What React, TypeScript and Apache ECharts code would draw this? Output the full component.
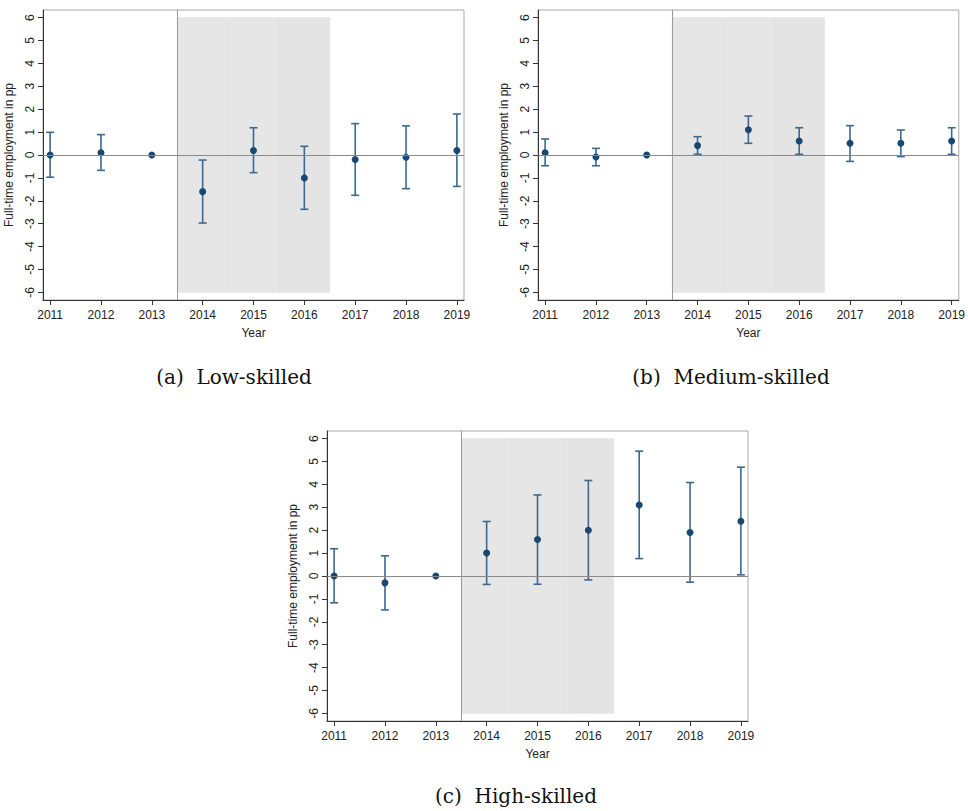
import React, { useEffect, useRef } from "react";
import * as echarts from "echarts";

const years = [2011, 2012, 2013, 2014, 2015, 2016, 2017, 2018, 2019];
const yTicks = [-6, -5, -4, -3, -2, -1, 0, 1, 2, 3, 4, 5, 6];

// Low-skilled
const lowEst = [0, 0.1, 0, -1.6, 0.2, -1.0, -0.2, -0.1, 0.2];
const lowLo = [-0.97, -0.67, null, -2.97, -0.77, -2.37, -1.76, -1.47, -1.37];
const lowHi = [0.99, 0.89, null, -0.22, 1.19, 0.38, 1.37, 1.27, 1.79];

// Medium-skilled
const medEst = [0.1, -0.09, 0, 0.41, 1.1, 0.61, 0.51, 0.51, 0.61];
const medLo = [-0.47, -0.47, null, 0.03, 0.51, 0.03, -0.28, -0.07, 0.03];
const medHi = [0.7, 0.29, null, 0.8, 1.7, 1.19, 1.28, 1.09, 1.19];

// High-skilled
const highEst = [0, -0.3, 0, 1.0, 1.59, 2.0, 3.1, 1.9, 2.39];
const highLo = [-1.17, -1.48, null, -0.37, -0.36, -0.17, 0.76, -0.27, 0.05];
const highHi = [1.19, 0.88, null, 2.38, 3.54, 4.17, 5.45, 4.08, 4.75];

const shadeYears = [2014, 2015, 2016];
const captions = ["(a)  Low-skilled", "(b)  Medium-skilled", "(c)  High-skilled"];
const yTitle = "Full-time employment in pp";
const xTitle = "Year";

const DOT = "#1a476f";
const BAR = "#3b6991";
const SANS = "Liberation Sans, Arial, sans-serif";

const grids = [
  { left: 43, top: 10, width: 421, height: 290 },
  { left: 538, top: 10, width: 422, height: 290 },
  { left: 327, top: 431, width: 421, height: 290 },
];

export default function App() {
  const ref = useRef<HTMLDivElement>(null);
  useEffect(() => {
    const chart = echarts.init(ref.current!, null, { renderer: "svg" });
    const panels = [
      { est: lowEst, lo: lowLo, hi: lowHi },
      { est: medEst, lo: medLo, hi: medHi },
      { est: highEst, lo: highLo, hi: highHi },
    ];
    const xAxis: any[] = [];
    const yAxis: any[] = [];
    const series: any[] = [];
    const shadeColors = ["#e6e6e6", "#e6e6e6", "#e4e4e4"];
    panels.forEach((p, i) => {
      xAxis.push({
        type: "value",
        gridIndex: i,
        min: 2010.86,
        max: 2019.14,
        name: xTitle,
        nameLocation: "middle",
        nameGap: 27,
        nameTextStyle: { fontFamily: SANS, fontSize: 12, color: "#222" },
        axisLine: { show: true, onZero: false, lineStyle: { color: "#333", width: 1 } },
        axisTick: { show: true, length: 5, customValues: years, lineStyle: { color: "#333" } },
        axisLabel: {
          customValues: years,
          fontFamily: SANS,
          fontSize: 12,
          color: "#222",
          margin: 9,
          formatter: (v: number) => String(Math.round(v)),
        },
        splitLine: { show: false },
      });
      yAxis.push({
        type: "value",
        gridIndex: i,
        min: -6.33,
        max: 6.33,
        name: yTitle,
        nameLocation: "middle",
        nameGap: 28,
        nameRotate: 90,
        nameTextStyle: { fontFamily: SANS, fontSize: 12, color: "#222" },
        axisLine: { show: true, onZero: false, lineStyle: { color: "#333", width: 1 } },
        axisTick: { show: true, length: 5, customValues: yTicks, lineStyle: { color: "#333" } },
        axisLabel: {
          customValues: yTicks,
          rotate: 90,
          fontFamily: SANS,
          fontSize: 12,
          color: "#222",
          margin: 7,
        },
        splitLine: { show: false },
      });
      // zero line (below shade)
      series.push({
        type: "line",
        xAxisIndex: i,
        yAxisIndex: i,
        data: [],
        z: 1,
        silent: true,
        markLine: {
          silent: true,
          symbol: "none",
          label: { show: false },
          lineStyle: { color: "#8a8a8a", width: 1, type: "solid" },
          data: [{ yAxis: 0 }],
        },
      });
      // shaded treatment years
      series.push({
        type: "line",
        xAxisIndex: i,
        yAxisIndex: i,
        data: [],
        z: 2,
        silent: true,
        markArea: {
          silent: true,
          label: { show: false },
          data: shadeYears.map((y, k) => [
            { xAxis: y - 0.5, yAxis: -6, itemStyle: { color: shadeColors[k], borderColor: "#e0e0e0", borderWidth: 0.5 } },
            { xAxis: y + 0.5, yAxis: 6 },
          ]),
        },
        markLine: {
          silent: true,
          symbol: "none",
          label: { show: false },
          lineStyle: { color: "#9a9a9a", width: 1, type: "solid" },
          data: [{ xAxis: 2013.5 }],
        },
      });
      // error bars
      const ciData = years
        .map((y, k) => [y, p.lo[k], p.hi[k]])
        .filter((d) => d[1] !== null && d[2] !== null);
      series.push({
        type: "custom",
        xAxisIndex: i,
        yAxisIndex: i,
        z: 3,
        silent: true,
        data: ciData,
        renderItem: (params: any, api: any) => {
          const x = api.value(0);
          const lo = api.coord([x, api.value(1)]);
          const hi = api.coord([x, api.value(2)]);
          const hw = 4;
          const style = { stroke: BAR, lineWidth: 1.6, fill: "none" };
          return {
            type: "group",
            children: [
              { type: "line", shape: { x1: lo[0], y1: lo[1], x2: hi[0], y2: hi[1] }, style },
              { type: "line", shape: { x1: lo[0] - hw, y1: lo[1], x2: lo[0] + hw, y2: lo[1] }, style },
              { type: "line", shape: { x1: hi[0] - hw, y1: hi[1], x2: hi[0] + hw, y2: hi[1] }, style },
            ],
          };
        },
        encode: { x: 0, y: [1, 2] },
      });
      // point estimates
      series.push({
        type: "scatter",
        xAxisIndex: i,
        yAxisIndex: i,
        z: 4,
        silent: true,
        symbol: "circle",
        symbolSize: 7,
        itemStyle: { color: DOT, opacity: 1 },
        data: years.map((y, k) => [y, p.est[k]]),
      });
    });

    const captionPos = [
      { x: 234, y: 377 },
      { x: 731, y: 377 },
      { x: 516, y: 796 },
    ];
    chart.setOption({
      animation: false,
      backgroundColor: "#ffffff",
      grid: grids.map((g) => ({ ...g, show: true, borderColor: "#a8a8a8", borderWidth: 1, backgroundColor: "transparent" })),
      xAxis,
      yAxis,
      series,
      graphic: captions.map((c, i) => ({
        type: "text",
        x: captionPos[i].x,
        y: captionPos[i].y,
        style: {
          text: c,
          fontFamily: "DejaVu Serif, Liberation Serif, serif",
          fontSize: 20,
          fill: "#111",
          textAlign: "center",
          textVerticalAlign: "middle",
        },
      })),
    });
    return () => chart.dispose();
  }, []);
  return (
    <div
      ref={ref}
      style={{ position: "absolute", left: 0, top: 0, width: 968, height: 811, background: "#fff" }}
    />
  );
}
